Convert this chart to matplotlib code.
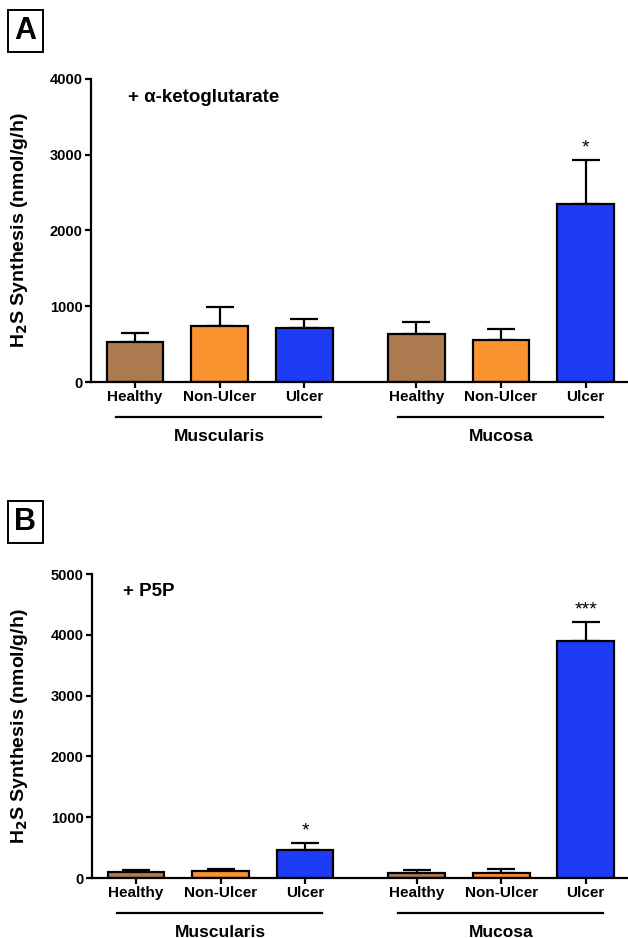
import matplotlib
matplotlib.use("Agg")
import matplotlib.pyplot as plt
import matplotlib.transforms as mtrans
import numpy as np

plt.rcParams['font.family'] = ['Liberation Sans', 'DejaVu Sans']
plt.rcParams['font.weight'] = 'bold'

# data
tissues = ["Muscularis", "Mucosa"]
groups = ["Healthy", "Non-Ulcer", "Ulcer"]
bar_colors = ["#AD7A50", "#FA9230", "#1E3CF5"]

akg_mean = [530, 745, 715, 640, 560, 2350]
akg_err = [120, 245, 115, 155, 135, 585]
akg_stars = ["", "", "", "", "", "*"]

p5p_mean = [100, 110, 465, 88, 82, 3900]
p5p_err = [25, 30, 115, 45, 65, 310]
p5p_stars = ["", "", "*", "", "", "***"]

W, H = 628, 938
fig = plt.figure(figsize=(W / 100, H / 100), dpi=100)

pos = np.array([0, 1, 2, 3.32, 4.32, 5.32])


def panel(rect_px, means, errs, stars, ymax, ystep, note, note_xy, letter, letter_xy):
    x0, y_top, x1, y_bot = rect_px
    ax = fig.add_axes([x0 / W, 1 - y_bot / H, (x1 - x0) / W, (y_bot - y_top) / H])
    cols = bar_colors * 2
    ax.bar(pos, means, width=0.67, color=cols, edgecolor='black', linewidth=1.6, zorder=2)
    ax.errorbar(pos, means, yerr=[np.zeros(len(means)), errs], fmt='none',
                ecolor='black', elinewidth=1.6, capsize=10, capthick=1.6, zorder=1)
    for x, m, e, s in zip(pos, means, errs, stars):
        if s:
            ax.text(x, m + e + ymax * 0.012, s, ha='center', va='bottom', fontsize=14, fontweight='normal')
    ax.set_xlim(-0.52, 5.82)
    ax.set_ylim(0, ymax)
    ax.set_yticks(np.arange(0, ymax + 1, ystep))
    ax.set_xticks(pos)
    ax.set_xticklabels(groups * 2, fontsize=11, fontweight='bold')
    for lab in ax.get_yticklabels():
        lab.set_fontsize(10.5)
        lab.set_fontweight('bold')
    for side in ['top', 'right']:
        ax.spines[side].set_visible(False)
    for side in ['left', 'bottom']:
        ax.spines[side].set_linewidth(1.6)
    ax.tick_params(width=1.6, length=4.5, pad=1.5)
    ax.set_ylabel("H$_\\mathbf{2}$S Synthesis (nmol/g/h)", fontsize=14, fontweight='bold')
    ax.yaxis.set_label_coords((30 - x0) / (x1 - x0), 0.5)
    ax.text((note_xy[0] - x0) / (x1 - x0), (y_bot - note_xy[1]) / (y_bot - y_top), note,
            transform=ax.transAxes, fontsize=13.5, fontweight='bold', va='center')

    # group lines under tick labels
    base = mtrans.blended_transform_factory(ax.transData, ax.transAxes)
    line_tr = base + mtrans.ScaledTranslation(0, -25 / 72, fig.dpi_scale_trans)
    text_tr = base + mtrans.ScaledTranslation(0, -39 / 72, fig.dpi_scale_trans)
    for i, t in enumerate(tissues):
        a = pos[3 * i] - 0.22
        b = pos[3 * i + 2] + 0.2
        ax.plot([a, b], [0, 0], color='black', lw=1.6, transform=line_tr, clip_on=False)
        ax.text(pos[3 * i + 1], 0, t, transform=text_tr, ha='center', va='center',
                fontsize=12.5, fontweight='bold')

    fig.text(letter_xy[0] / W, 1 - letter_xy[1] / H, letter, ha='center', va='center',
             fontsize=22, fontweight='bold',
             bbox=dict(boxstyle='square,pad=0.2', facecolor='white', edgecolor='black', linewidth=1.4))
    return ax


panel((91, 79, 628, 382), akg_mean, akg_err, akg_stars, 4000, 1000,
      "+ \u03b1-ketoglutarate", (128, 98), "A", (25.5, 31))
panel((92, 574, 628, 878), p5p_mean, p5p_err, p5p_stars, 5000, 1000,
      "+ P5P", (123, 591), "B", (25.5, 522))

fig.savefig("out.png", dpi=100)
